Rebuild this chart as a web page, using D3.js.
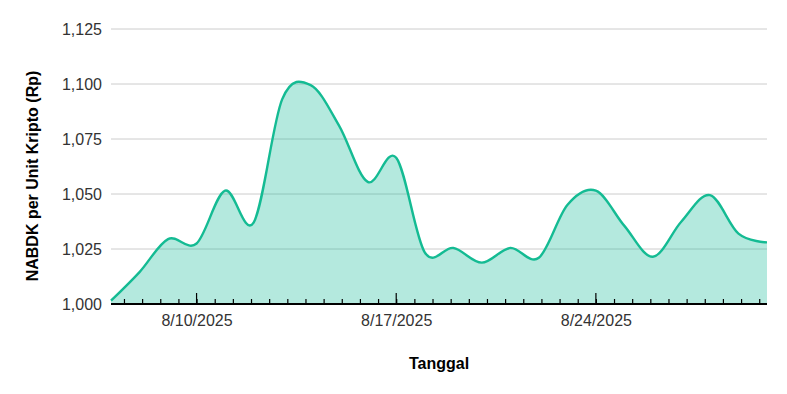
<!DOCTYPE html>
<html>
<head>
<meta charset="utf-8">
<script src="https://cdn.jsdelivr.net/npm/d3@7"></script>
<style>
body { margin: 0; background: #fff; }
text { font-family: Arial, "Liberation Sans", sans-serif; }
</style>
</head>
<body>
<div class="chart"></div>
<script>
// daily NAV values
var dates = ["2025-08-07","2025-08-08","2025-08-09","2025-08-10","2025-08-11","2025-08-12",
	"2025-08-13","2025-08-14","2025-08-15","2025-08-16","2025-08-17","2025-08-18",
	"2025-08-19","2025-08-20","2025-08-21","2025-08-22","2025-08-23","2025-08-24",
	"2025-08-25","2025-08-26","2025-08-27","2025-08-28","2025-08-29","2025-08-30"];
var nav = [1001.5, 1014.5, 1029.5, 1027.5, 1051.5, 1037,
	1093, 1099.5, 1081, 1055.5, 1066.5, 1023.5,
	1025.5, 1018.8, 1025.5, 1021, 1045, 1051.5,
	1035.5, 1021.5, 1037.5, 1049.5, 1032, 1028];
var yTicks = [1000, 1025, 1050, 1075, 1100, 1125];
var majorDates = ["2025-08-10", "2025-08-17", "2025-08-24"];

var parse = d3.timeParse("%Y-%m-%d");
var fmt = d3.timeFormat("%-m/%-d/%Y");
var data = dates.map(function(d, i) { return {date: parse(d), v: nav[i]}; });
var majors = majorDates.map(parse);

var W = 787, H = 394;
var m = {left: 111, right: 20, top: 29, bottom: 90};
var w = W - m.left - m.right, h = H - m.top - m.bottom;

var x = d3.scaleTime().domain([parse("2025-08-07"), parse("2025-08-30")]).range([0, w]);
var y = d3.scaleLinear().domain([1000, 1125]).range([h, 0]);

// minor ticks every 7/11 day around the weekly marks
var step = 7 / 11 * 864e5;
var minors = [];
var t0 = majors[0].getTime();
for (var t = t0 - step * 10; t <= x.domain()[1].getTime(); t += step) {
	if (t >= x.domain()[0].getTime() + 1) minors.push(new Date(t));
}

var svg = d3.select(".chart").append("svg")
	.attr("width", W)
	.attr("height", H)
	.append("g")
	.attr("transform", "translate(" + m.left + "," + m.top + ")");

// grid
svg.selectAll("line.grid").data(yTicks.slice(1)).enter().append("line")
	.attr("class", "grid")
	.attr("x1", 0).attr("x2", w)
	.attr("y1", function(d) { return y(d); })
	.attr("y2", function(d) { return y(d); })
	.attr("stroke", "#cccccc").attr("stroke-width", 1);

var curve = d3.curveCardinal.tension(0);
var area = d3.area().curve(curve)
	.x(function(d) { return x(d.date); })
	.y0(h)
	.y1(function(d) { return y(d.v); });
var line = d3.line().curve(curve)
	.x(function(d) { return x(d.date); })
	.y(function(d) { return y(d.v); });

svg.append("path").datum(data).attr("d", area)
	.attr("fill", "#1abc9c").attr("fill-opacity", 0.33);
svg.append("path").datum(data).attr("d", line)
	.attr("fill", "none").attr("stroke", "#14bb93").attr("stroke-width", 2.4);

// y axis labels
var ya = svg.append("g").call(d3.axisLeft(y).tickValues(yTicks).tickFormat(d3.format(",")).tickSize(0).tickPadding(9));
ya.select(".domain").remove();
ya.selectAll("text").attr("font-size", "16px").attr("fill", "#333").attr("font-family", "Arial, 'Liberation Sans', sans-serif");

// x axis: minor and major ticks pointing up
var xm = svg.append("g").attr("transform", "translate(0," + h + ")")
	.call(d3.axisTop(x).tickValues(minors).tickSize(5).tickFormat(""));
xm.select(".domain").remove();
xm.selectAll("line").attr("stroke", "#000").attr("stroke-width", 1.2);

var xa = svg.append("g").attr("transform", "translate(0," + h + ")")
	.call(d3.axisBottom(x).tickValues(majors).tickFormat(fmt).tickSize(0).tickPadding(11));
xa.select(".domain").remove();
xa.selectAll("text").attr("font-size", "16px").attr("fill", "#333").attr("font-family", "Arial, 'Liberation Sans', sans-serif");
svg.selectAll("line.major").data(majors).enter().append("line")
	.attr("class", "major")
	.attr("x1", function(d) { return x(d); }).attr("x2", function(d) { return x(d); })
	.attr("y1", h).attr("y2", h - 11)
	.attr("stroke", "#000").attr("stroke-width", 1.2);

svg.append("line").attr("x1", 0).attr("x2", w).attr("y1", h).attr("y2", h)
	.attr("stroke", "#000").attr("stroke-width", 2);

// titles
svg.append("text").attr("x", w / 2).attr("y", 369 - m.top)
	.attr("text-anchor", "middle").style("font-size", "16px").style("font-weight", "bold")
	.text("Tanggal");
svg.append("text").attr("transform", "translate(" + (38 - m.left) + "," + (176 - m.top) + ") rotate(-90)")
	.attr("text-anchor", "middle").style("font-size", "16px").style("font-weight", "bold")
	.text("NABDK per Unit Kripto (Rp)");
</script>
</body>
</html>
